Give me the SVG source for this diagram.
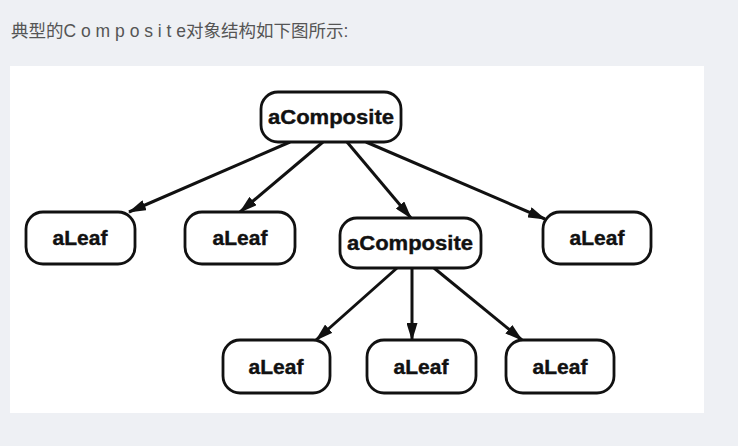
<svg xmlns="http://www.w3.org/2000/svg" width="738" height="446" viewBox="0 0 738 446">
<defs>
<style>
.node rect{fill:#fff;stroke:#111;stroke-width:2.8}
.node text{font-family:"Liberation Sans",Arial,sans-serif;font-weight:bold;font-size:21px;fill:#111;text-anchor:middle;stroke:#111;stroke-width:0.4}
.edge{stroke:#111;stroke-width:3;fill:none;marker-end:url(#ah)}
.hdr{font-family:"Liberation Sans","Noto Sans CJK SC",sans-serif;font-size:17.5px;fill:#555}
</style>
<marker id="ah" markerUnits="userSpaceOnUse" markerWidth="18" markerHeight="11" viewBox="0 0 18 11" refX="17" refY="5.5" orient="auto">
<path d="M0,0 L18,5.5 L0,11 z" fill="#111"/>
</marker>
</defs>
<rect x="0" y="0" width="738" height="446" fill="#eef0f4"/>
<text class="hdr" x="11" y="37">典型的C o m p o s i t e对象结构如下图所示:</text>
<rect x="10" y="66" width="694" height="347" fill="#fff"/>
<g id="connectors">
<line class="edge" x1="290" y1="142" x2="129" y2="212"/>
<line class="edge" x1="323" y1="142" x2="240" y2="212"/>
<line class="edge" x1="347" y1="142" x2="411" y2="218"/>
<line class="edge" x1="366" y1="142" x2="545" y2="219"/>
<line class="edge" x1="397" y1="268" x2="316" y2="340"/>
<line class="edge" x1="412" y1="268" x2="412" y2="340"/>
<line class="edge" x1="434" y1="268" x2="522" y2="340"/>
</g>
<g id="root" class="node"><rect x="261" y="92" width="140" height="50" rx="17"/><text x="331" y="124" textLength="126" lengthAdjust="spacingAndGlyphs">aComposite</text></g>
<g id="leaf1" class="node"><rect x="26" y="212" width="109" height="52" rx="17"/><text x="80" y="245">aLeaf</text></g>
<g id="leaf2" class="node"><rect x="185" y="212" width="110" height="52" rx="17"/><text x="240" y="245">aLeaf</text></g>
<g id="composite2" class="node"><rect x="340" y="218" width="141" height="50" rx="17"/><text x="410" y="250" textLength="126" lengthAdjust="spacingAndGlyphs">aComposite</text></g>
<g id="leaf3" class="node"><rect x="543" y="212" width="108" height="52" rx="17"/><text x="597" y="245">aLeaf</text></g>
<g id="leaf4" class="node"><rect x="223" y="340" width="107" height="53" rx="17"/><text x="276" y="374">aLeaf</text></g>
<g id="leaf5" class="node"><rect x="367" y="340" width="109" height="53" rx="17"/><text x="421" y="374">aLeaf</text></g>
<g id="leaf6" class="node"><rect x="506" y="340" width="108" height="53" rx="17"/><text x="560" y="374">aLeaf</text></g>
</svg>
